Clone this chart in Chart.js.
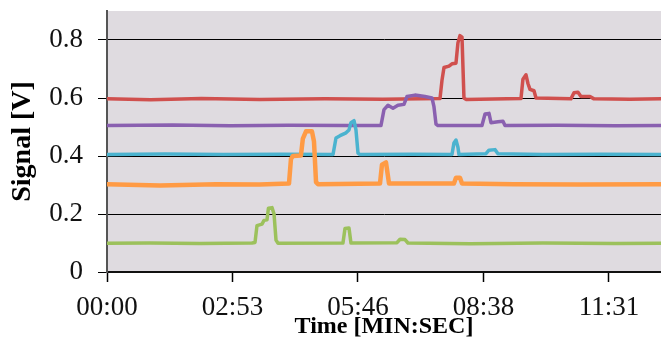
<!DOCTYPE html>
<html lang="en">
<head>
    <meta charset="UTF-8">
    <title>Signal vs Time</title>
    <script src="https://cdn.jsdelivr.net/npm/chart.js"></script>
    <style>
        body {
            margin: 0;
            background: #ffffff;
        }
        .chart-container {
            width: 661px;
            height: 343px;
        }
    </style>
</head>
<body>
    <div class="chart-container">
        <canvas id="signalChart" width="661" height="343"></canvas>
    </div>

    <script>
        // time in seconds, signal in volts
        const redTime = [0, 60, 130, 210, 300, 380, 458.5, 461.2, 464, 470.9, 475, 480.5, 483.2, 486, 488.8, 491.5, 494.3, 570, 572.7, 576.9, 579.6, 582.4, 587.9, 590.7, 638.8, 643, 648.5, 652.6, 665, 670.5, 720, 762.8];
        const redSignal = [0.597, 0.594, 0.598, 0.595, 0.597, 0.596, 0.598, 0.66, 0.705, 0.71, 0.718, 0.72, 0.79, 0.815, 0.81, 0.6, 0.595, 0.598, 0.665, 0.68, 0.65, 0.63, 0.625, 0.6, 0.597, 0.618, 0.62, 0.605, 0.605, 0.597, 0.596, 0.597];

        const purpleTime = [0, 90, 170, 250, 330, 377.2, 381.4, 386.9, 393.8, 400.6, 408.9, 413, 424, 437.8, 447.5, 450.2, 453, 455.7, 516.3, 520.5, 526, 528.7, 538.3, 545.2, 548, 620, 700, 762.8];
        const purpleSignal = [0.505, 0.507, 0.504, 0.506, 0.505, 0.505, 0.56, 0.575, 0.565, 0.575, 0.578, 0.605, 0.61, 0.605, 0.6, 0.57, 0.51, 0.505, 0.505, 0.545, 0.547, 0.515, 0.518, 0.52, 0.505, 0.506, 0.504, 0.505];

        const cyanTime = [0, 80, 160, 240, 311.2, 315.3, 320.8, 329.1, 333.2, 335.9, 340.1, 342.8, 345.6, 348.3, 420, 475, 477.7, 480.5, 483.2, 484.6, 521.8, 525.9, 534.2, 538.3, 600, 680, 762.8];
        const cyanSignal = [0.405, 0.407, 0.405, 0.406, 0.405, 0.462, 0.47, 0.48, 0.49, 0.515, 0.522, 0.49, 0.41, 0.405, 0.406, 0.405, 0.445, 0.455, 0.43, 0.405, 0.408, 0.42, 0.422, 0.408, 0.405, 0.406, 0.405];

        const orangeTime = [0, 73, 150, 210, 250.6, 253.3, 256, 267, 269.7, 274, 282.2, 285, 287.8, 290.5, 375.9, 378.6, 384.1, 386.9, 388.3, 477.7, 480.5, 486, 488.8, 560, 650, 762.8];
        const orangeSignal = [0.303, 0.298, 0.303, 0.302, 0.305, 0.39, 0.4, 0.402, 0.46, 0.485, 0.485, 0.45, 0.31, 0.303, 0.305, 0.37, 0.378, 0.33, 0.305, 0.305, 0.325, 0.325, 0.305, 0.303, 0.302, 0.303];

        const greenTime = [0, 59, 128, 199.6, 203.8, 206.5, 213.4, 216.2, 220.3, 222.3, 227.2, 230, 232.7, 235.5, 324.9, 327.7, 333.2, 335.9, 399.3, 403.5, 410.3, 414.4, 500, 600, 700, 762.8];
        const greenSignal = [0.099, 0.1, 0.098, 0.1, 0.102, 0.16, 0.165, 0.178, 0.18, 0.22, 0.222, 0.2, 0.11, 0.099, 0.1, 0.15, 0.152, 0.1, 0.101, 0.113, 0.112, 0.1, 0.097, 0.1, 0.098, 0.099];

        const xTickStep = 172.8;   // 0.002 day
        const xMax = 762.8;
        const yMax = 0.9;

        function toPoints(times, values) {
            return times.map((t, i) => ({ x: t, y: values[i] }));
        }

        function fmtTime(sec) {
            const s = Math.round(sec);
            const m = Math.floor(s / 60);
            const r = s % 60;
            return String(m).padStart(2, '0') + ':' + String(r).padStart(2, '0');
        }

        const serif = '"Liberation Serif", "Times New Roman", serif';

        const plotBackground = {
            id: 'plotBackground',
            beforeDraw(chart) {
                const { ctx, chartArea } = chart;
                ctx.save();
                ctx.fillStyle = '#dfdbe0';
                ctx.fillRect(chartArea.left, chartArea.top, chartArea.right - chartArea.left, chartArea.bottom - chartArea.top);
                ctx.restore();
            }
        };

        // later series in Excel sit on top; in Chart.js the first dataset is drawn last
        const series = [
            { label: 'green', times: greenTime, values: greenSignal, color: '#9cc15c', width: 3.5 },
            { label: 'orange', times: orangeTime, values: orangeSignal, color: '#ff9b45', width: 4.5 },
            { label: 'cyan', times: cyanTime, values: cyanSignal, color: '#4bb3cf', width: 3.5 },
            { label: 'purple', times: purpleTime, values: purpleSignal, color: '#8a60b0', width: 3.5 },
            { label: 'red', times: redTime, values: redSignal, color: '#d0504e', width: 3.5 }
        ];

        const ctx = document.getElementById('signalChart').getContext('2d');
        new Chart(ctx, {
            type: 'line',
            data: {
                datasets: series.map(s => ({
                    label: s.label,
                    data: toPoints(s.times, s.values),
                    borderColor: s.color,
                    backgroundColor: s.color,
                    borderWidth: s.width,
                    pointRadius: 0,
                    tension: 0,
                    borderJoinStyle: 'round',
                    borderCapStyle: 'round'
                }))
            },
            options: {
                responsive: false,
                animation: false,
                layout: { padding: { top: 11, left: 0, right: 0, bottom: 0 } },
                plugins: {
                    legend: { display: false },
                    tooltip: { enabled: false }
                },
                scales: {
                    x: {
                        type: 'linear',
                        min: 0,
                        max: xMax,
                        afterFit(scale) { scale.height = 71; },
                        grid: {
                            drawOnChartArea: false,
                            drawTicks: true,
                            tickLength: 10,
                            tickColor: '#000',
                            tickWidth: 1.5
                        },
                        border: { color: '#111', width: 2 },
                        ticks: {
                            stepSize: xTickStep,
                            includeBounds: false,
                            autoSkip: false,
                            maxRotation: 0,
                            padding: 10,
                            color: '#111',
                            font: { family: serif, size: 27 },
                            callback: value => fmtTime(value)
                        },
                        title: {
                            display: true,
                            text: 'Time [MIN:SEC]',
                            color: '#000',
                            font: { family: serif, size: 24, weight: 'bold' },
                            padding: { top: 0, bottom: 2 }
                        }
                    },
                    y: {
                        min: 0,
                        max: yMax,
                        afterFit(scale) {
                            scale.width = 107;
                            scale.paddingTop = 0;
                            scale.paddingBottom = 0;
                        },
                        grid: {
                            color: c => (c.tick && Math.abs(c.tick.value - yMax) < 1e-6) ? '#9a9a9a' : '#000',
                            lineWidth: c => (c.tick && Math.abs(c.tick.value - yMax) < 1e-6) ? 2 : 1,
                            tickLength: 9,
                            tickColor: c => (c.tick && Math.round(c.tick.value * 10) % 2 === 0) ? '#000' : 'rgba(0,0,0,0)'
                        },
                        border: { color: '#555', width: 2 },
                        ticks: {
                            stepSize: 0.1,
                            padding: 15,
                            color: '#111',
                            font: { family: serif, size: 27 },
                            callback: value => {
                                const tenth = Math.round(value * 10);
                                if (tenth % 2 !== 0) return '';
                                return tenth === 0 ? '0' : (tenth / 10).toFixed(1);
                            }
                        },
                        title: {
                            display: true,
                            text: 'Signal [V]',
                            color: '#000',
                            font: { family: serif, size: 28, weight: 'bold' },
                            padding: { top: 6, bottom: 0 }
                        }
                    }
                }
            },
            plugins: [plotBackground]
        });
    </script>
</body>
</html>
